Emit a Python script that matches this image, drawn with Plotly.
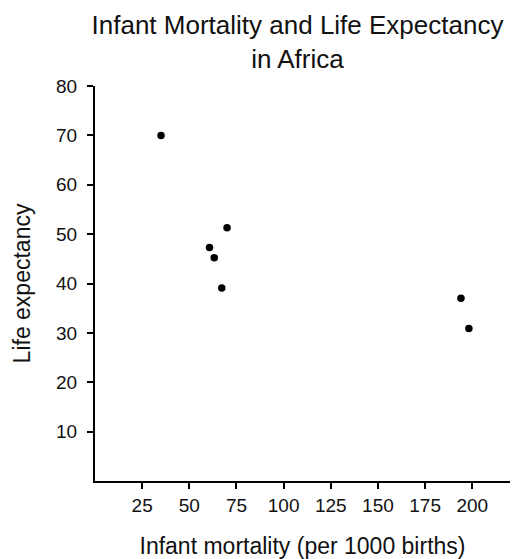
import plotly.graph_objects as go

infant_mortality = [35, 70, 60.7, 63.2, 67.2, 194, 198.2]
life_expectancy = [70, 51.3, 47.3, 45.2, 39.1, 37.0, 30.9]

x_ticks = [25, 50, 75, 100, 125, 150, 175, 200]
y_ticks = [10, 20, 30, 40, 50, 60, 70, 80]

FONT = "Liberation Sans, Arial, sans-serif"

fig = go.Figure(
    go.Scatter(
        x=infant_mortality,
        y=life_expectancy,
        mode="markers",
        marker=dict(color="black", size=7.5),
    )
)

fig.update_layout(
    width=512,
    height=559,
    paper_bgcolor="white",
    plot_bgcolor="white",
    showlegend=False,
    margin=dict(l=95, r=2, t=86, b=78, autoexpand=False),
    font=dict(family=FONT, color="#111111"),
    title=dict(
        text="Infant Mortality and Life Expectancy<br>in Africa",
        font=dict(size=26, family=FONT, color="#111111"),
        x=297.5 / 512,
        xref="container",
        xanchor="center",
        y=1 - 34 / 559,
        yref="container",
        yanchor="top",
        automargin=False,
    ),
)

fig.update_xaxes(
    range=[0, 220],
    tickvals=x_ticks,
    ticktext=[str(v) for v in x_ticks],
    showline=True,
    linecolor="black",
    linewidth=2,
    ticks="outside",
    ticklen=6,
    tickwidth=2,
    tickcolor="black",
    showgrid=False,
    zeroline=False,
    automargin=False,
    tickfont=dict(size=19, family=FONT, color="#111111"),
    title=dict(text="Infant mortality (per 1000 births)", font=dict(size=23, family=FONT, color="#111111"), standoff=23),
)

fig.update_yaxes(
    range=[0, 80],
    tickvals=y_ticks,
    ticktext=[str(v) for v in y_ticks],
    showline=True,
    linecolor="black",
    linewidth=2,
    ticks="outside",
    ticklen=6,
    tickwidth=2,
    tickcolor="black",
    showgrid=False,
    zeroline=False,
    automargin=False,
    tickfont=dict(size=19, family=FONT, color="#111111"),
    ticklabelstandoff=6,
    title=dict(text="Life expectancy", font=dict(size=23, family=FONT, color="#111111"), standoff=19),
)

fig.write_html(
    "out.html",
    config={"displayModeBar": False},
    post_script="document.body.style.margin='0';document.body.style.overflow='hidden';",
)
